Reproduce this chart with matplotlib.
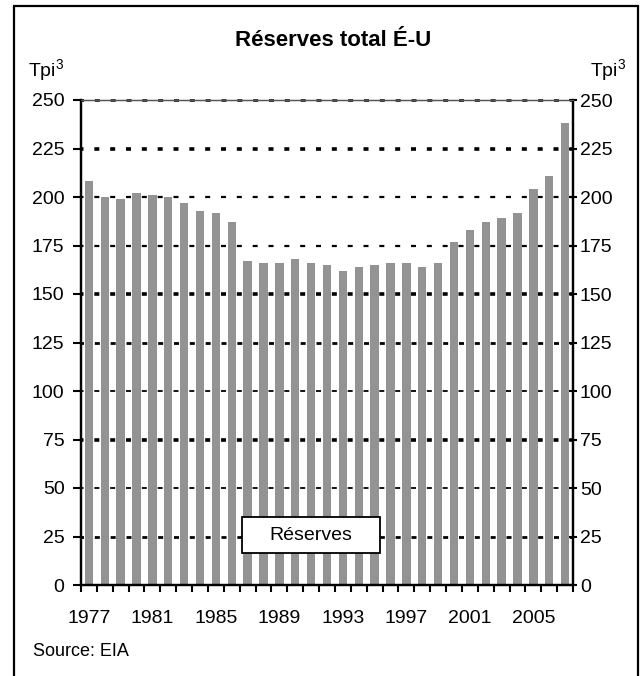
import matplotlib
matplotlib.use("Agg")
import matplotlib.pyplot as plt
from matplotlib.patches import Rectangle
import numpy as np

years = list(range(1977, 2008))
reserves = [208, 200, 199, 202, 201, 200, 197, 193, 192, 187,
            167, 166, 166, 168, 166, 165, 162, 164, 165, 166,
            166, 164, 166, 177, 183, 187, 189, 192, 204, 211, 238]
label_years = [1977, 1981, 1985, 1989, 1993, 1997, 2001, 2005]
yticks = [0, 25, 50, 75, 100, 125, 150, 175, 200, 225, 250]

plt.rcParams['font.family'] = ['Liberation Sans', 'DejaVu Sans']
plt.rcParams['mathtext.fontset'] = 'custom'
plt.rcParams['mathtext.rm'] = 'Liberation Sans'
plt.rcParams['mathtext.it'] = 'Liberation Sans'
plt.rcParams['lines.scale_dashes'] = False

W, H = 643, 676
fig = plt.figure(figsize=(W / 100, H / 100), dpi=100)

def fx(px):
    return px / W

def fy(py):
    return 1 - py / H

ax = fig.add_axes([fx(81), fy(585), fx(573) - fx(81), fy(100) - fy(585)])

x = np.arange(len(years))
ax.bar(x, reserves, width=0.53, color='#939393', edgecolor='none', zorder=2)

ax.set_xlim(-0.5, len(years) - 0.5)
ax.set_ylim(0, 250)

# gridlines behind bars
grid_lw = {25: 2.0, 50: 1.3, 75: 2.6, 100: 1.3, 125: 2.0, 150: 2.6,
           175: 1.6, 200: 1.6, 225: 2.6, 250: 1.8}
for v in yticks[1:]:
    ax.axhline(v, color='black', lw=grid_lw[v], linestyle=(1.8, (3.6, 7.8)),
               zorder=4 if v == 250 else 1, clip_on=False)

# x ticks: minor at boundaries, labels at centres
ax.set_xticks([years.index(y) for y in label_years])
ax.set_xticklabels([str(y) for y in label_years], fontsize=14)
ax.set_xticks(np.arange(-0.5, len(years)), minor=True)
ax.tick_params(axis='x', which='major', length=0, pad=18)
ax.tick_params(axis='x', which='minor', direction='out', length=5.2,
               width=1.5, color='black')

ax.set_yticks(yticks)
ax.set_yticklabels([str(v) for v in yticks], fontsize=14)
ax.tick_params(axis='y', direction='out', length=5.8, width=1.5, pad=6)

ax2 = ax.twinx()
ax2.set_ylim(0, 250)
ax2.set_yticks(yticks)
ax2.set_yticklabels([str(v) for v in yticks], fontsize=14)
ax2.tick_params(axis='y', direction='inout', length=5.8, width=1.5, pad=2)

for a in (ax, ax2):
    for s in ('left', 'right', 'bottom'):
        a.spines[s].set_linewidth(1.6)
        a.spines[s].set_color('black')
    a.spines['top'].set_linewidth(0.9)
    a.spines['top'].set_color('#555555')

fig.text(fx(333), fy(41), 'Réserves total É-U', fontsize=16,
         fontweight='bold', ha='center', va='center')
fig.text(fx(28), fy(76), 'Tpi$^3$', fontsize=14, ha='left', va='baseline')
fig.text(fx(590), fy(76), 'Tpi$^3$', fontsize=14, ha='left', va='baseline')
fig.text(fx(33), fy(652), 'Source: EIA', fontsize=13, ha='left', va='center')

# legend box
fig.patches.append(Rectangle((fx(242), fy(553)), fx(380) - fx(242),
                             fy(517) - fy(553), transform=fig.transFigure,
                             facecolor='white', edgecolor='black', lw=1.3,
                             zorder=5))
fig.text(fx(311), fy(535), 'Réserves', fontsize=14, ha='center',
         va='center', zorder=6)

# outer frame
fig.patches.append(Rectangle((fx(14), -0.02), fx(638) - fx(14),
                             fy(6) + 0.02, transform=fig.transFigure,
                             facecolor='none', edgecolor='black', lw=1.6,
                             zorder=10))

fig.savefig('out.png', dpi=100)
